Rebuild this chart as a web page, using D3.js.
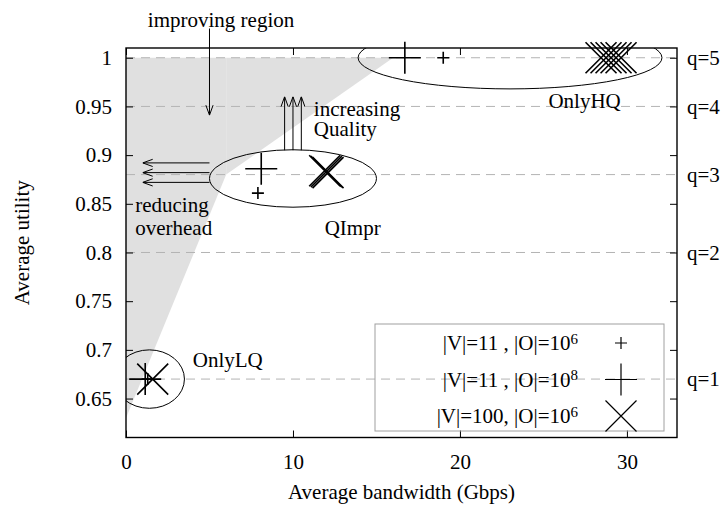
<!DOCTYPE html>
<html>
<head>
<meta charset="utf-8">
<script src="https://cdn.jsdelivr.net/npm/d3@7"></script>
<style>
body { margin: 0; background: #fff; }
text { font-family: "Liberation Serif", "Times New Roman", serif; font-size: 21px; fill: #000; }
</style>
</head>
<body>
<script>
var width = 725,
    height = 511;

// data
var xTicks = [0, 10, 20, 30];
var yTicks = [0.65, 0.7, 0.75, 0.8, 0.85, 0.9, 0.95, 1];
var qLevels = [0.67, 0.8, 0.88, 0.95, 1.0];
var qLabels = ["q=1", "q=2", "q=3", "q=4", "q=5"];

var smallPlus = [[1.3, 0.67], [7.9, 0.861], [19.0, 1.0]];
var bigPlus = [[1.15, 0.67], [8.1, 0.886], [16.7, 1.0]];
var bigCross = [[1.6, 0.67], [11.9, 0.884], [12.0, 0.883], [12.1, 0.882],
                [28.45, 1], [28.75, 1], [29.05, 1], [29.35, 1], [29.65, 1]];

var legendLabels = ["|V|=11 , |O|=10", "|V|=11 , |O|=10", "|V|=100, |O|=10"];
var legendPowers = ["6", "8", "6"];

// improving region edge (bandwidth, utility)
var greyEdge = [[0, 0.63], [6, 0.88], [16, 1.0]];

// groups of runs
var groupNames = ["OnlyLQ", "QImpr", "OnlyHQ"];
var groupCenters = [[1.4, 0.67], [10.0, 0.876], [23.0, 1.0]];
var groupSpreads = [[2.1, 0.03], [5.0, 0.0295], [9.1, 0.032]];
var groupLabelAt = [[4.0, 0.69], [11.9, 0.826], [25.3, 0.956]];

// annotation arrows
var improveArrow = [[5, 1.03], [5, 0.941]];
var qualityX = [9.5, 10, 10.5];
var qualityFromTo = [0.905, 0.96];
var overheadY = [0.892, 0.882, 0.872];
var overheadFromTo = [5.0, 1.0];

var margin = {left: 126, right: 48, top: 48, bottom: 73.5};

var x = d3.scaleLinear().domain([0, 33]).range([margin.left, width - margin.right]);
var y = d3.scaleLinear().domain([0.61, 1.01]).range([height - margin.bottom, margin.top]);

var svg = d3.select("body").append("svg")
    .attr("width", width)
    .attr("height", height);

svg.append("defs").append("clipPath").attr("id", "plot")
  .append("rect")
    .attr("x", x(0)).attr("y", y(1.01))
    .attr("width", x(33) - x(0)).attr("height", y(0.61) - y(1.01));

var head = svg.select("defs").append("marker")
    .attr("id", "head")
    .attr("viewBox", "0 -5 10 10")
    .attr("refX", 10).attr("refY", 0)
    .attr("markerUnits", "userSpaceOnUse")
    .attr("markerWidth", 10).attr("markerHeight", 10)
    .attr("orient", "auto");
head.append("path")
    .attr("d", "M0,-3.6L10,0L0,3.6")
    .attr("fill", "none")
    .attr("stroke", "#000")
    .attr("stroke-width", 1);

// grey improving region, two pieces
var greyA = [[0, greyEdge[0][1]], greyEdge[1], [greyEdge[1][0], 1], [0, 1]];
var greyB = [greyEdge[1], greyEdge[2], [greyEdge[1][0], 1]];
svg.selectAll(".grey")
    .data([greyA, greyB])
    .enter().append("path")
    .attr("class", "grey")
    .attr("fill", "#e0e0e0")
    .attr("d", function(d) { return d3.line().x(function(p) { return x(p[0]); }).y(function(p) { return y(p[1]); })(d) + "Z"; });

// q levels
svg.selectAll(".qline")
    .data(qLevels)
    .enter().append("line")
    .attr("class", "qline")
    .attr("x1", x(0)).attr("x2", x(33))
    .attr("y1", function(d) { return y(d); })
    .attr("y2", function(d) { return y(d); })
    .attr("stroke", "#b4b4b4")
    .attr("stroke-width", 1)
    .attr("stroke-dasharray", "9,6");

svg.selectAll(".qlabel")
    .data(qLevels)
    .enter().append("text")
    .attr("x", x(33) + 10)
    .attr("y", function(d) { return y(d); })
    .attr("dy", "0.35em")
    .text(function(d, i) { return qLabels[i]; });

// axes, ticks inside on all four sides
var axB = svg.append("g").attr("transform", "translate(0," + y(0.61) + ")")
    .call(d3.axisBottom(x).tickValues(xTicks).tickSize(-7).tickPadding(17).tickFormat(d3.format("d")));
var axT = svg.append("g").attr("transform", "translate(0," + y(1.01) + ")")
    .call(d3.axisTop(x).tickValues(xTicks).tickSize(-7).tickFormat(""));
var axL = svg.append("g").attr("transform", "translate(" + x(0) + ",0)")
    .call(d3.axisLeft(y).tickValues(yTicks).tickSize(-7).tickPadding(14).tickFormat(function(d) { return d3.format("")(+d.toFixed(2)); }));
var axR = svg.append("g").attr("transform", "translate(" + x(33) + ",0)")
    .call(d3.axisRight(y).tickValues(yTicks).tickSize(-7).tickFormat(""));
[axB, axT, axL, axR].forEach(function(a) {
    a.select(".domain").remove();
    a.selectAll("text").attr("font-size", null).attr("font-family", null).attr("fill", null);
    a.selectAll("line").attr("stroke", "#000");
});

svg.append("rect")
    .attr("x", x(0)).attr("y", y(1.01))
    .attr("width", x(33) - x(0)).attr("height", y(0.61) - y(1.01))
    .attr("fill", "none")
    .attr("stroke", "#000")
    .attr("stroke-width", 1.4);

svg.append("text")
    .attr("x", (x(0) + x(33)) / 2)
    .attr("y", 499)
    .attr("text-anchor", "middle")
    .text("Average bandwidth (Gbps)");

svg.append("text")
    .attr("transform", "translate(29," + ((y(0.61) + y(1.01)) / 2) + ") rotate(-90)")
    .attr("text-anchor", "middle")
    .text("Average utility");

// group ellipses
svg.append("g").attr("clip-path", "url(#plot)")
  .selectAll("ellipse")
    .data(groupCenters)
    .enter().append("ellipse")
    .attr("cx", function(d) { return x(d[0]); })
    .attr("cy", function(d) { return y(d[1]); })
    .attr("rx", function(d, i) { return x(groupSpreads[i][0]) - x(0); })
    .attr("ry", function(d, i) { return y(0.61) - y(0.61 + groupSpreads[i][1]); })
    .attr("fill", "none")
    .attr("stroke", "#000")
    .attr("stroke-width", 1);

svg.selectAll(".gname")
    .data(groupNames)
    .enter().append("text")
    .attr("class", "gname")
    .attr("x", function(d, i) { return x(groupLabelAt[i][0]); })
    .attr("y", function(d, i) { return y(groupLabelAt[i][1]); })
    .attr("dy", "0.35em")
    .text(function(d) { return d; });

// annotations
function arrow(x1, y1, x2, y2) {
    svg.append("line")
        .attr("x1", x1).attr("y1", y1).attr("x2", x2).attr("y2", y2)
        .attr("stroke", "#000").attr("stroke-width", 1)
        .attr("marker-end", "url(#head)");
}
arrow(x(improveArrow[0][0]), y(improveArrow[0][1]), x(improveArrow[1][0]), y(improveArrow[1][1]));
qualityX.forEach(function(d) { arrow(x(d), y(qualityFromTo[0]), x(d), y(qualityFromTo[1])); });
overheadY.forEach(function(d) { arrow(x(overheadFromTo[0]), y(d), x(overheadFromTo[1]), y(d)); });

var notes = [["improving region", 1.31, 1.0388],
             ["increasing", 11.25, 0.948], ["Quality", 11.25, 0.927],
             ["reducing", 0.55, 0.849], ["overhead", 0.55, 0.826]];
svg.selectAll(".note")
    .data(notes)
    .enter().append("text")
    .attr("class", "note")
    .attr("x", function(d) { return x(d[1]); })
    .attr("y", function(d) { return y(d[2]); })
    .attr("dy", "0.35em")
    .text(function(d) { return d[0]; });

// markers
function plusPath(s) { return "M" + (-s) + ",0H" + s + "M0," + (-s) + "V" + s; }
function crossPath(s) { return "M" + (-s) + "," + (-s) + "L" + s + "," + s + "M" + (-s) + "," + s + "L" + s + "," + (-s); }
var shapes = [plusPath(6), plusPath(16), crossPath(15.5)];

[smallPlus, bigPlus, bigCross].forEach(function(series, k) {
    svg.append("g").selectAll("path")
        .data(series)
        .enter().append("path")
        .attr("transform", function(d) { return "translate(" + x(d[0]) + "," + y(d[1]) + ")"; })
        .attr("d", shapes[k])
        .attr("fill", "none")
        .attr("stroke", "#000")
        .attr("stroke-width", 1.6);
});

// legend
var legend = svg.append("g");
legend.append("rect")
    .attr("x", 375).attr("y", 324)
    .attr("width", 289).attr("height", 107)
    .attr("fill", "none")
    .attr("stroke", "#a0a0a0")
    .attr("stroke-width", 1);
var entry = legend.selectAll(".entry")
    .data(legendLabels)
    .enter().append("g")
    .attr("transform", function(d, i) { return "translate(0," + (343 + i * 36.5) + ")"; });
var lt = entry.append("text")
    .attr("x", 578)
    .attr("dy", "0.35em")
    .attr("text-anchor", "end");
lt.append("tspan").text(function(d) { return d; });
lt.append("tspan")
    .attr("dy", "-0.45em")
    .attr("font-size", "15px")
    .text(function(d, i) { return legendPowers[i]; });
entry.append("path")
    .attr("transform", "translate(621,0)")
    .attr("d", function(d, i) { return shapes[i]; })
    .attr("fill", "none")
    .attr("stroke", "#000")
    .attr("stroke-width", 1.2);
</script>
</body>
</html>
